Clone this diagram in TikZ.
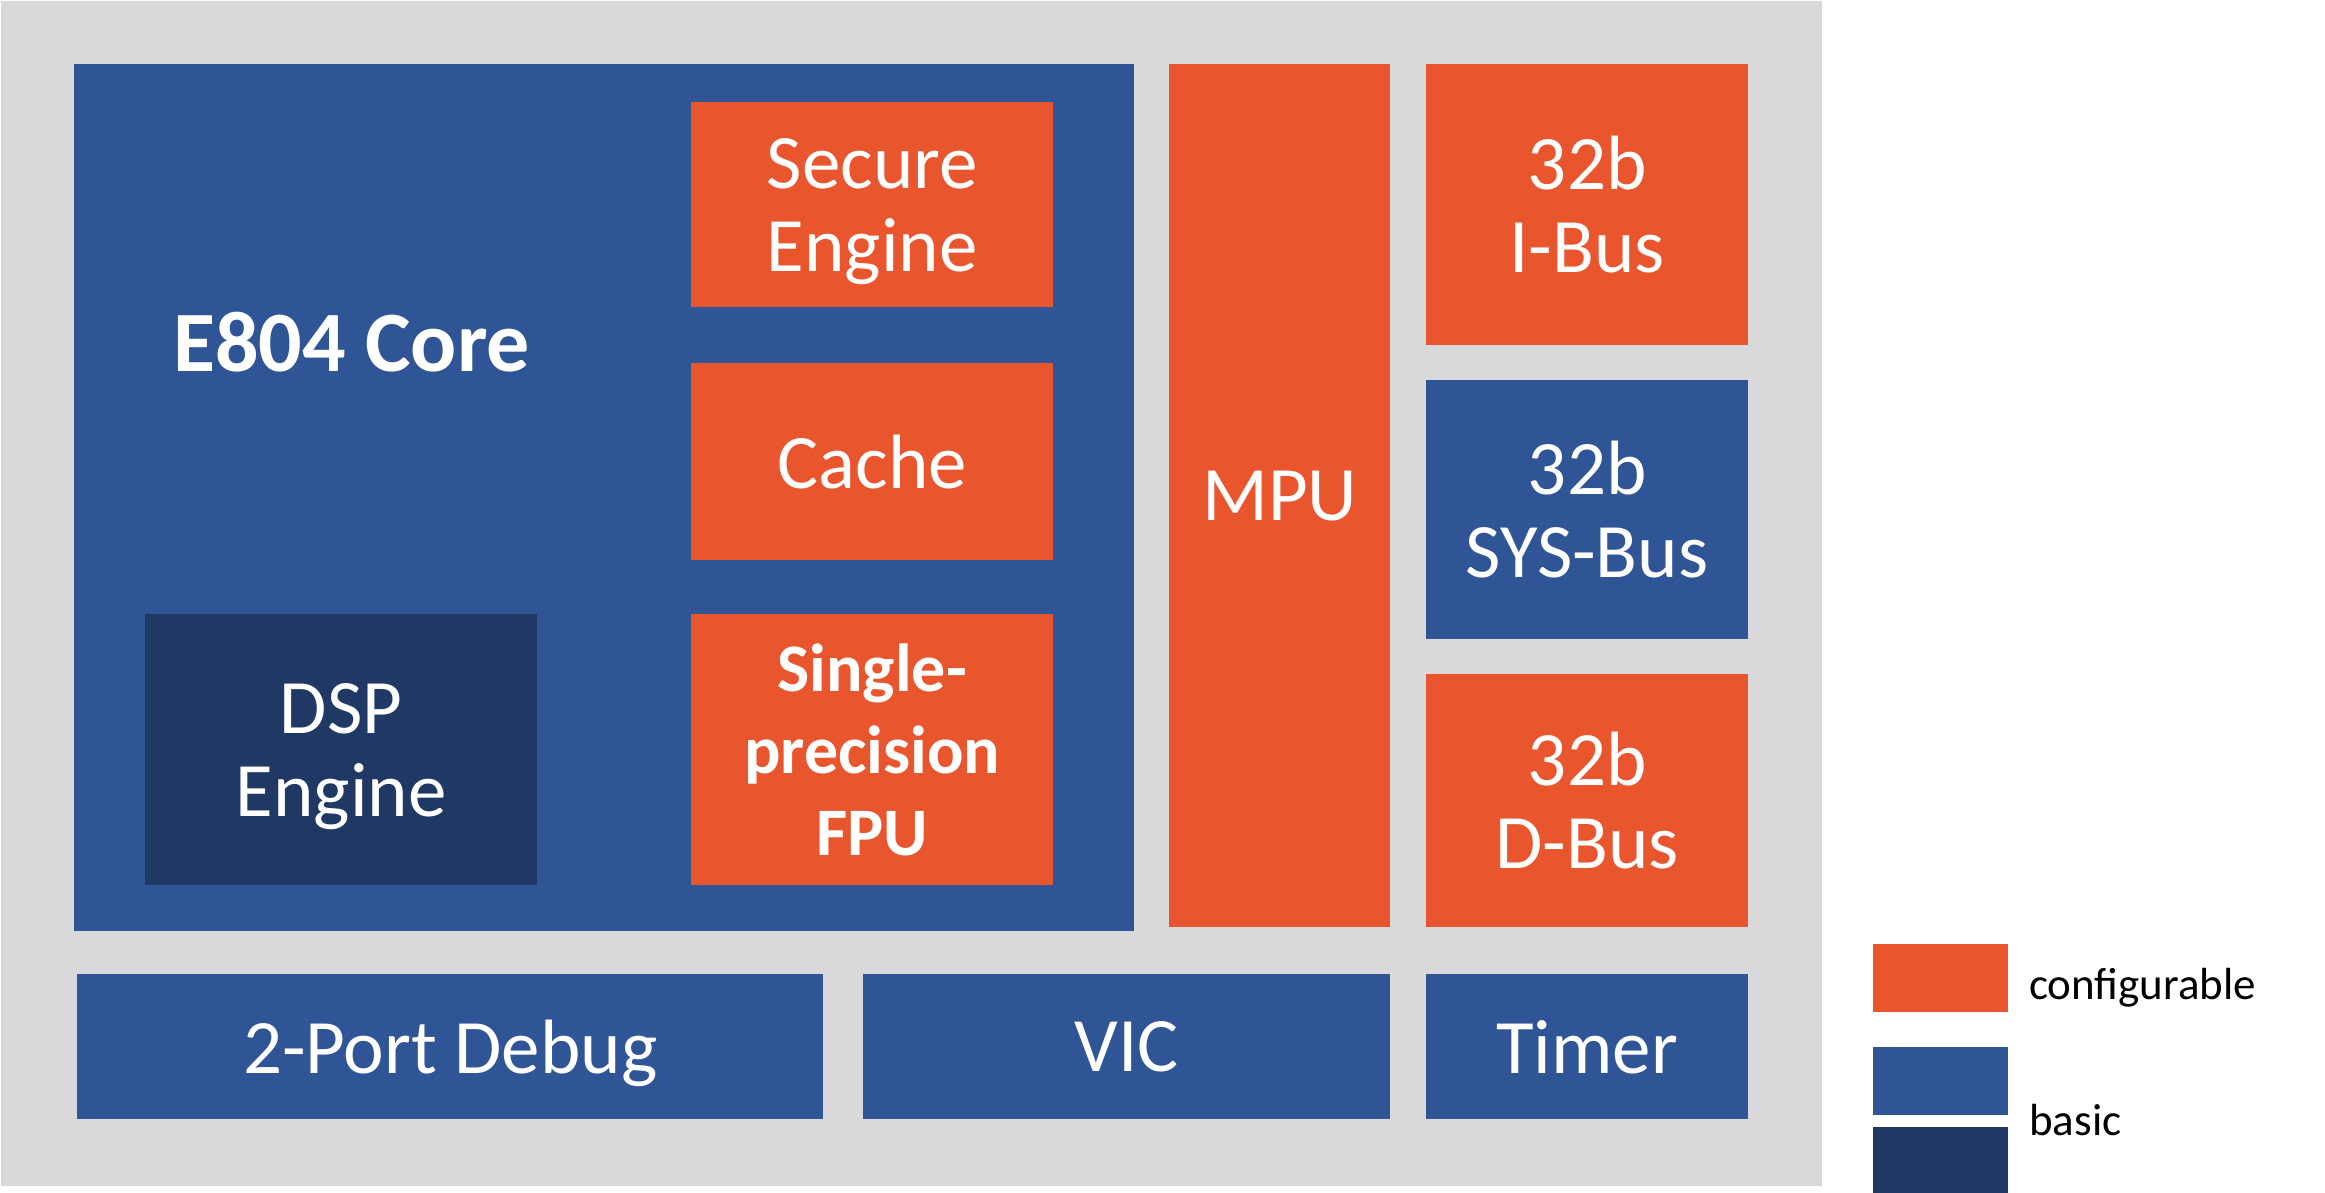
\documentclass[tikz,border=0pt]{standalone}
\usepackage{fontspec}
\setmainfont{Carlito}
\definecolor{cfgorange}{RGB}{233,86,46}
\definecolor{basicblue}{RGB}{47,85,151}
\definecolor{darknavy}{RGB}{32,56,100}
\definecolor{panelgray}{RGB}{217,216,218}
\tikzset{
  blk/.style={rectangle, inner sep=0pt, anchor=north west, text=white, align=center,
              text depth=0pt, font=\fontsize{77}{83}\selectfont},
  cfg/.style={blk, fill=cfgorange},
  bas/.style={blk, fill=basicblue},
  dspbox/.style={blk, fill=darknavy},
  legbox/.style={rectangle, inner sep=0pt, anchor=north west, minimum width=135},
  legtext/.style={anchor=base west, inner sep=0pt, text=black, font=\fontsize{45}{50}\selectfont}
}
\begin{document}
\begin{tikzpicture}[x=1pt,y=-1pt]
\useasboundingbox (0,0) rectangle (2325,1193);
\fill[white] (0,0) rectangle (2325,1193);
\node[fill=panelgray, anchor=north west, minimum width=1821, minimum height=1185, inner sep=0pt] (panel) at (1,1) {};
% core
\node[bas, minimum width=1060, minimum height=867] (core) at (74,64) {};
\node[anchor=base west, inner sep=0pt, text=white, font=\bfseries\fontsize{86}{90}\selectfont] (corelabel) at (173,371) {E804 Core};
\node[cfg, minimum width=362, minimum height=205] (secure) at (691,102) {Secure\\Engine};
\node[cfg, minimum width=362, minimum height=197] (cache) at (691,363) {Cache};
\node[cfg, minimum width=362, minimum height=271, font=\bfseries\fontsize{68}{82}\selectfont] (fpu) at (691,614) {Single-\\precision\\FPU};
\node[dspbox, minimum width=392, minimum height=271] (dsp) at (145,614) {DSP\\Engine};
% right column
\node[cfg, minimum width=221, minimum height=863] (mpu) at (1169,64) {MPU};
\node[cfg, minimum width=322, minimum height=281] (ibus) at (1426,64) {32b\\I-Bus};
\node[bas, minimum width=322, minimum height=259] (sysbus) at (1426,380) {32b\\SYS-Bus};
\node[cfg, minimum width=322, minimum height=253] (dbus) at (1426,674) {32b\\D-Bus};
% bottom row
\node[bas, minimum width=746, minimum height=145] (debug) at (77,974) {2-Port Debug};
\node[bas, minimum width=527, minimum height=145] (vic) at (863,974) {VIC};
\node[bas, minimum width=322, minimum height=145] (timer) at (1426,974) {Timer};
% legend
\node[legbox, fill=cfgorange, minimum height=68] (legcfg) at (1873,944) {};
\node[legbox, fill=basicblue, minimum height=68] (legbas) at (1873,1047) {};
\node[legbox, fill=darknavy, minimum height=70] (legdark) at (1873,1127) {};
\node[legtext] (legcfgtext) at (2029,999) {configurable};
\node[legtext] (legbastext) at (2029,1135) {basic};
\end{tikzpicture}
\end{document}
